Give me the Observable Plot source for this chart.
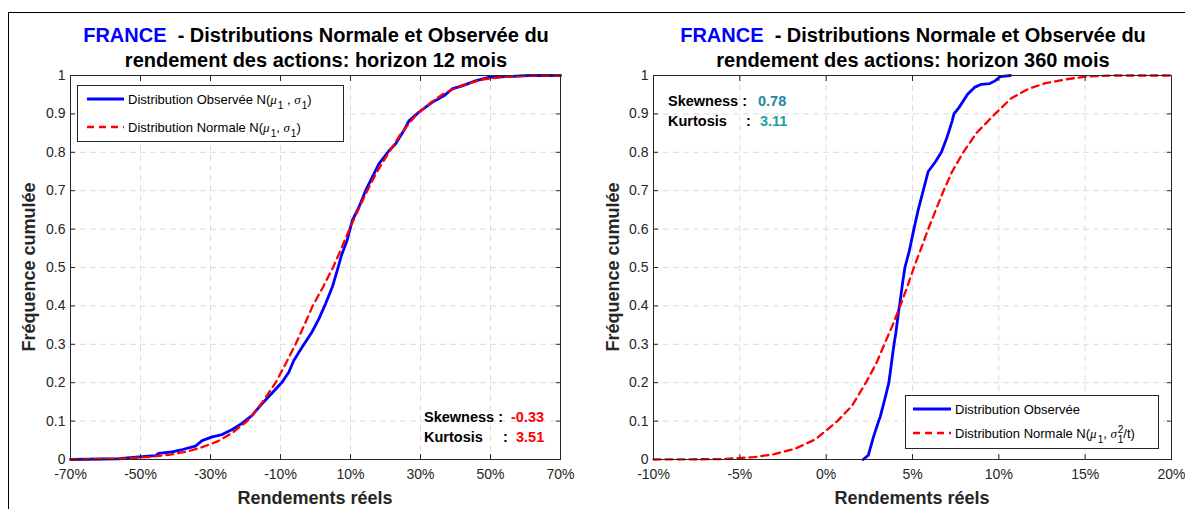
<!DOCTYPE html>
<html><head><meta charset="utf-8">
<script src="https://cdn.jsdelivr.net/npm/d3@7"></script>
<script src="https://cdn.jsdelivr.net/npm/@observablehq/plot@0.6"></script>
<style>
body{margin:0;background:#fff;}
#fig{position:relative;width:1185px;height:509px;overflow:hidden;background:#fff;font-family:"Liberation Sans",Arial,Helvetica,sans-serif;}
#fig > svg{position:absolute;top:0;}
</style></head>
<body><div id="fig"></div>
<script>
// ---------- data ----------
// Left panel: horizon 12 mois (x in %)
const leftObsX = [-70,-56.2,-50.5,-45.7,-44.8,-41,-38,-34.3,-32.4,-29.5,-26.7,-23.8,-21,-18.1,-15.2,-12.4,-9.5,-7.6,-6.2,-3.8,-1,1,2.9,4.8,6.2,7.4,9,10.5,12.4,14.3,16.2,18.1,21,22.9,25.2,26.7,29.5,33.3,36.7,39,41.9,45.7,49.5,54.3,61,70];
const leftObsF = [0,0.002,0.007,0.01,0.016,0.02,0.026,0.035,0.049,0.059,0.065,0.078,0.094,0.115,0.146,0.173,0.202,0.228,0.258,0.293,0.332,0.367,0.406,0.449,0.492,0.531,0.57,0.622,0.657,0.70,0.735,0.77,0.804,0.822,0.856,0.882,0.904,0.93,0.947,0.965,0.973,0.986,0.995,0.997,1,1];
const leftNormX = [-70,-56,-48,-42,-37,-33,-28,-24,-19.5,-15.5,-11.4,-8.5,-5.7,-3.2,-0.8,2.2,5,7.4,9.7,12.2,14.8,17.6,21,24.5,29,33,37,42,48,55,62,70];
const leftNormF = [0,0.002,0.006,0.012,0.02,0.03,0.047,0.068,0.1,0.145,0.2,0.25,0.3,0.35,0.4,0.45,0.5,0.55,0.6,0.65,0.7,0.75,0.8,0.85,0.9,0.93,0.955,0.975,0.99,0.997,1,1];
// Right panel: horizon 360 mois
const rightObsX = [2.14,2.44,2.74,3.04,3.13,3.43,3.63,3.83,3.93,4.03,4.23,4.25,4.42,4.56,4.82,5.08,5.32,5.62,5.91,6.31,6.67,7.0,7.3,7.4,7.7,8.19,8.59,8.99,9.48,9.78,10.08,10.67];
const rightObsF = [0,0.011,0.059,0.1,0.111,0.163,0.2,0.267,0.3,0.328,0.397,0.4,0.458,0.5,0.544,0.6,0.648,0.7,0.75,0.774,0.8,0.839,0.882,0.9,0.917,0.951,0.969,0.977,0.979,0.986,0.997,1];
const rightNormX = [-10,-6,-4.2,-3,-1.8,-0.6,0.65,1.5,2.3,2.9,3.37,3.85,4.29,4.7,5.08,5.5,5.91,6.35,6.8,7.3,7.94,8.7,9.78,10.7,11.7,12.7,13.9,15,16.6,20];
const rightNormF = [0,0.001,0.006,0.014,0.028,0.053,0.1,0.14,0.2,0.25,0.3,0.35,0.4,0.45,0.5,0.55,0.6,0.65,0.7,0.75,0.8,0.85,0.9,0.94,0.965,0.98,0.99,0.997,1,1];
// ticks
const leftXTicks = [-70,-50,-30,-10,10,30,50,70];
const rightXTicks = [-10,-5,0,5,10,15,20];
const yTicks = [0,0.1,0.2,0.3,0.4,0.5,0.6,0.7,0.8,0.9,1];
// texts
const titleCountry = "FRANCE";
const titleRest = "  - Distributions Normale et Observée du";
const leftTitle2 = "rendement des actions: horizon 12 mois";
const rightTitle2 = "rendement des actions: horizon 360 mois";
const xLabel = "Rendements réels";
const yLabel = "Fréquence cumulée";
const leftStats = {skew: "-0.33", kurt: "3.51"};
const rightStats = {skew: "0.78", kurt: "3.11"};

// ---------- drawing ----------
const zip = (xs, fs) => xs.map((x, i) => ({x, f: fs[i]}));
const FONT = '"Liberation Sans",Arial,Helvetica,sans-serif';
const GRID = "#dcdcdc";
const AX = "#262626";

function panel({width, mL, mR, xDomain, xTicks, obs, norm}) {
  return Plot.plot({
    width, height: 509,
    marginLeft: mL, marginRight: mR, marginTop: 75, marginBottom: 50,
    style: {fontFamily: FONT, fontSize: "14px", color: AX, background: "transparent", overflow: "visible"},
    x: {domain: xDomain},
    y: {domain: [0, 1]},
    marks: [
      Plot.gridX(xTicks, {stroke: GRID, strokeOpacity: 1, strokeDasharray: "6,4"}),
      Plot.gridY(yTicks, {stroke: GRID, strokeOpacity: 1, strokeDasharray: "6,4"}),
      Plot.line(obs, {x: "x", y: "f", stroke: "#0000ff", strokeWidth: 2.8}),
      Plot.line(norm, {x: "x", y: "f", stroke: "#ff0000", strokeWidth: 2.3, strokeDasharray: "7,5"}),
      Plot.frame({stroke: AX, strokeWidth: 1}),
      Plot.axisX(xTicks, {anchor: "bottom", tickSize: -5, tickPadding: 15, tickFormat: d => d + "%", label: null, fill: AX}),
      Plot.axisX(xTicks, {anchor: "top", tickSize: -5, tickFormat: () => "", label: null}),
      Plot.axisY(yTicks, {anchor: "left", tickSize: -5, tickPadding: 10, tickFormat: d => String(d), label: null, fill: AX}),
      Plot.axisY(yTicks, {anchor: "right", tickSize: -5, tickFormat: () => "", label: null})
    ]
  });
}

const fig = document.getElementById("fig");
const leftSvg = panel({width: 600, mL: 70, mR: 40, xDomain: [-70, 70], xTicks: leftXTicks,
  obs: zip(leftObsX, leftObsF), norm: zip(leftNormX, leftNormF)});
leftSvg.style.left = "0px";
fig.appendChild(leftSvg);
const rightSvg = panel({width: 585, mL: 53, mR: 14, xDomain: [-10, 20], xTicks: rightXTicks,
  obs: zip(rightObsX, rightObsF), norm: zip(rightNormX, rightNormF)});
rightSvg.style.left = "600px";
fig.appendChild(rightSvg);

// overlay for titles, labels, legends, stats
const ov = d3.select(fig).append("svg").attr("width", 1185).attr("height", 509)
  .style("left", "0px").style("font-family", FONT);
// figure frame (left and top edges)
ov.append("line").attr("x1", 8.5).attr("x2", 8.5).attr("y1", 12).attr("y2", 509).attr("stroke", "#000");
ov.append("line").attr("x1", 8).attr("x2", 1185).attr("y1", 12.5).attr("y2", 12.5).attr("stroke", "#000");

function titles(cx, line2) {
  const t1 = ov.append("text").attr("x", cx).attr("y", 42).attr("text-anchor", "middle")
    .attr("font-size", 20).attr("font-weight", "bold").attr("fill", "#000");
  t1.append("tspan").attr("fill", "#0000ff").text(titleCountry);
  t1.append("tspan").style("white-space", "pre").text(titleRest);
  ov.append("text").attr("x", cx).attr("y", 67).attr("text-anchor", "middle")
    .attr("font-size", 20).attr("font-weight", "bold").attr("fill", "#000").text(line2);
}
titles(316, leftTitle2);
titles(913, rightTitle2);

function axisLabels(cx, yx) {
  ov.append("text").attr("x", cx).attr("y", 504).attr("text-anchor", "middle")
    .attr("font-size", 18).attr("font-weight", "bold").attr("fill", AX).text(xLabel);
  ov.append("text").attr("transform", `translate(${yx},267) rotate(-90)`).attr("dy", "0.35em")
    .attr("text-anchor", "middle").attr("font-size", 18).attr("font-weight", "bold").attr("fill", AX).text(yLabel);
}
axisLabels(315, 29);
axisLabels(912, 613);

const SERIF = '"Liberation Serif","Times New Roman",serif';
// builds a legend label from parts: plain strings, {g: greek}, {sub}, {sup}
function richText(t, parts) {
  let shift = 0; // current baseline shift
  for (const p of parts) {
    const s = t.append("tspan");
    let target = 0, size = null, dx = 0;
    if (typeof p === "string") { s.text(p); }
    else if (p.g) { s.attr("font-family", SERIF).attr("font-style", "italic").text(p.g); }
    else if (p.sub) { target = 5; size = 10; dx = p.dx ?? 1; s.text(p.sub); }
    else if (p.sup) { target = -5; size = 10; dx = p.dx ?? 1; s.text(p.sup); }
    if (size) s.attr("font-size", size);
    if (dx) s.attr("dx", dx);
    if (target !== shift) { s.attr("dy", target - shift); shift = target; }
  }
}

// left legend
{
  const g = ov.append("g");
  g.append("rect").attr("x", 77.5).attr("y", 85.5).attr("width", 266).attr("height", 56).attr("fill", "#fff").attr("stroke", AX);
  g.append("line").attr("x1", 87).attr("x2", 124).attr("y1", 99).attr("y2", 99).attr("stroke", "#0000ff").attr("stroke-width", 2.8);
  g.append("line").attr("x1", 87).attr("x2", 124).attr("y1", 127).attr("y2", 127).attr("stroke", "#ff0000").attr("stroke-width", 2.3).attr("stroke-dasharray", "7,5");
  const t1 = g.append("text").attr("x", 128).attr("y", 103.5).attr("font-size", 13).attr("fill", "#000");
  richText(t1, ["Distribution Observée N(", {g: "μ"}, {sub: "1"}, " , ", {g: "σ"}, {sub: "1"}, ")"]);
  const t2 = g.append("text").attr("x", 128).attr("y", 131.5).attr("font-size", 13).attr("fill", "#000");
  richText(t2, ["Distribution Normale N(", {g: "μ"}, {sub: "1"}, ", ", {g: "σ"}, {sub: "1"}, ")"]);
}
// right legend
{
  const g = ov.append("g");
  g.append("rect").attr("x", 905.5).attr("y", 395.5).attr("width", 253).attr("height", 53).attr("fill", "#fff").attr("stroke", AX);
  g.append("line").attr("x1", 913).attr("x2", 951).attr("y1", 409).attr("y2", 409).attr("stroke", "#0000ff").attr("stroke-width", 2.8);
  g.append("line").attr("x1", 913).attr("x2", 951).attr("y1", 433).attr("y2", 433).attr("stroke", "#ff0000").attr("stroke-width", 2.3).attr("stroke-dasharray", "7,5");
  g.append("text").attr("x", 955).attr("y", 413.5).attr("font-size", 13).attr("fill", "#000").text("Distribution Observée");
  const t2 = g.append("text").attr("x", 955).attr("y", 437.5).attr("font-size", 13).attr("fill", "#000");
  richText(t2, ["Distribution Normale N(", {g: "μ"}, {sub: "1"}, ", ", {g: "σ"}, {sup: "2"}, {sub: "1", dx: -5.6}, "/t)"]);
}
// stats
function stats(x0, yb, colonK, valX, kValX, s, c1, c2) {
  const st = (x, y, txt, fill) => ov.append("text").attr("x", x).attr("y", y).attr("font-size", 14.5)
    .attr("font-weight", "bold").attr("fill", fill).text(txt);
  st(x0, yb, "Skewness :", "#000");
  st(valX, yb, s.skew, c1);
  st(x0, yb + 20, "Kurtosis", "#000");
  st(colonK, yb + 20, ":", "#000");
  st(kValX, yb + 20, s.kurt, c2);
}
stats(424, 422, 503, 511, 516, leftStats, "#ff0000", "#ff0000");
stats(668, 106, 746, 758, 760, rightStats, "#1a8aa0", "#1aa3a0");
</script>
</body></html>
